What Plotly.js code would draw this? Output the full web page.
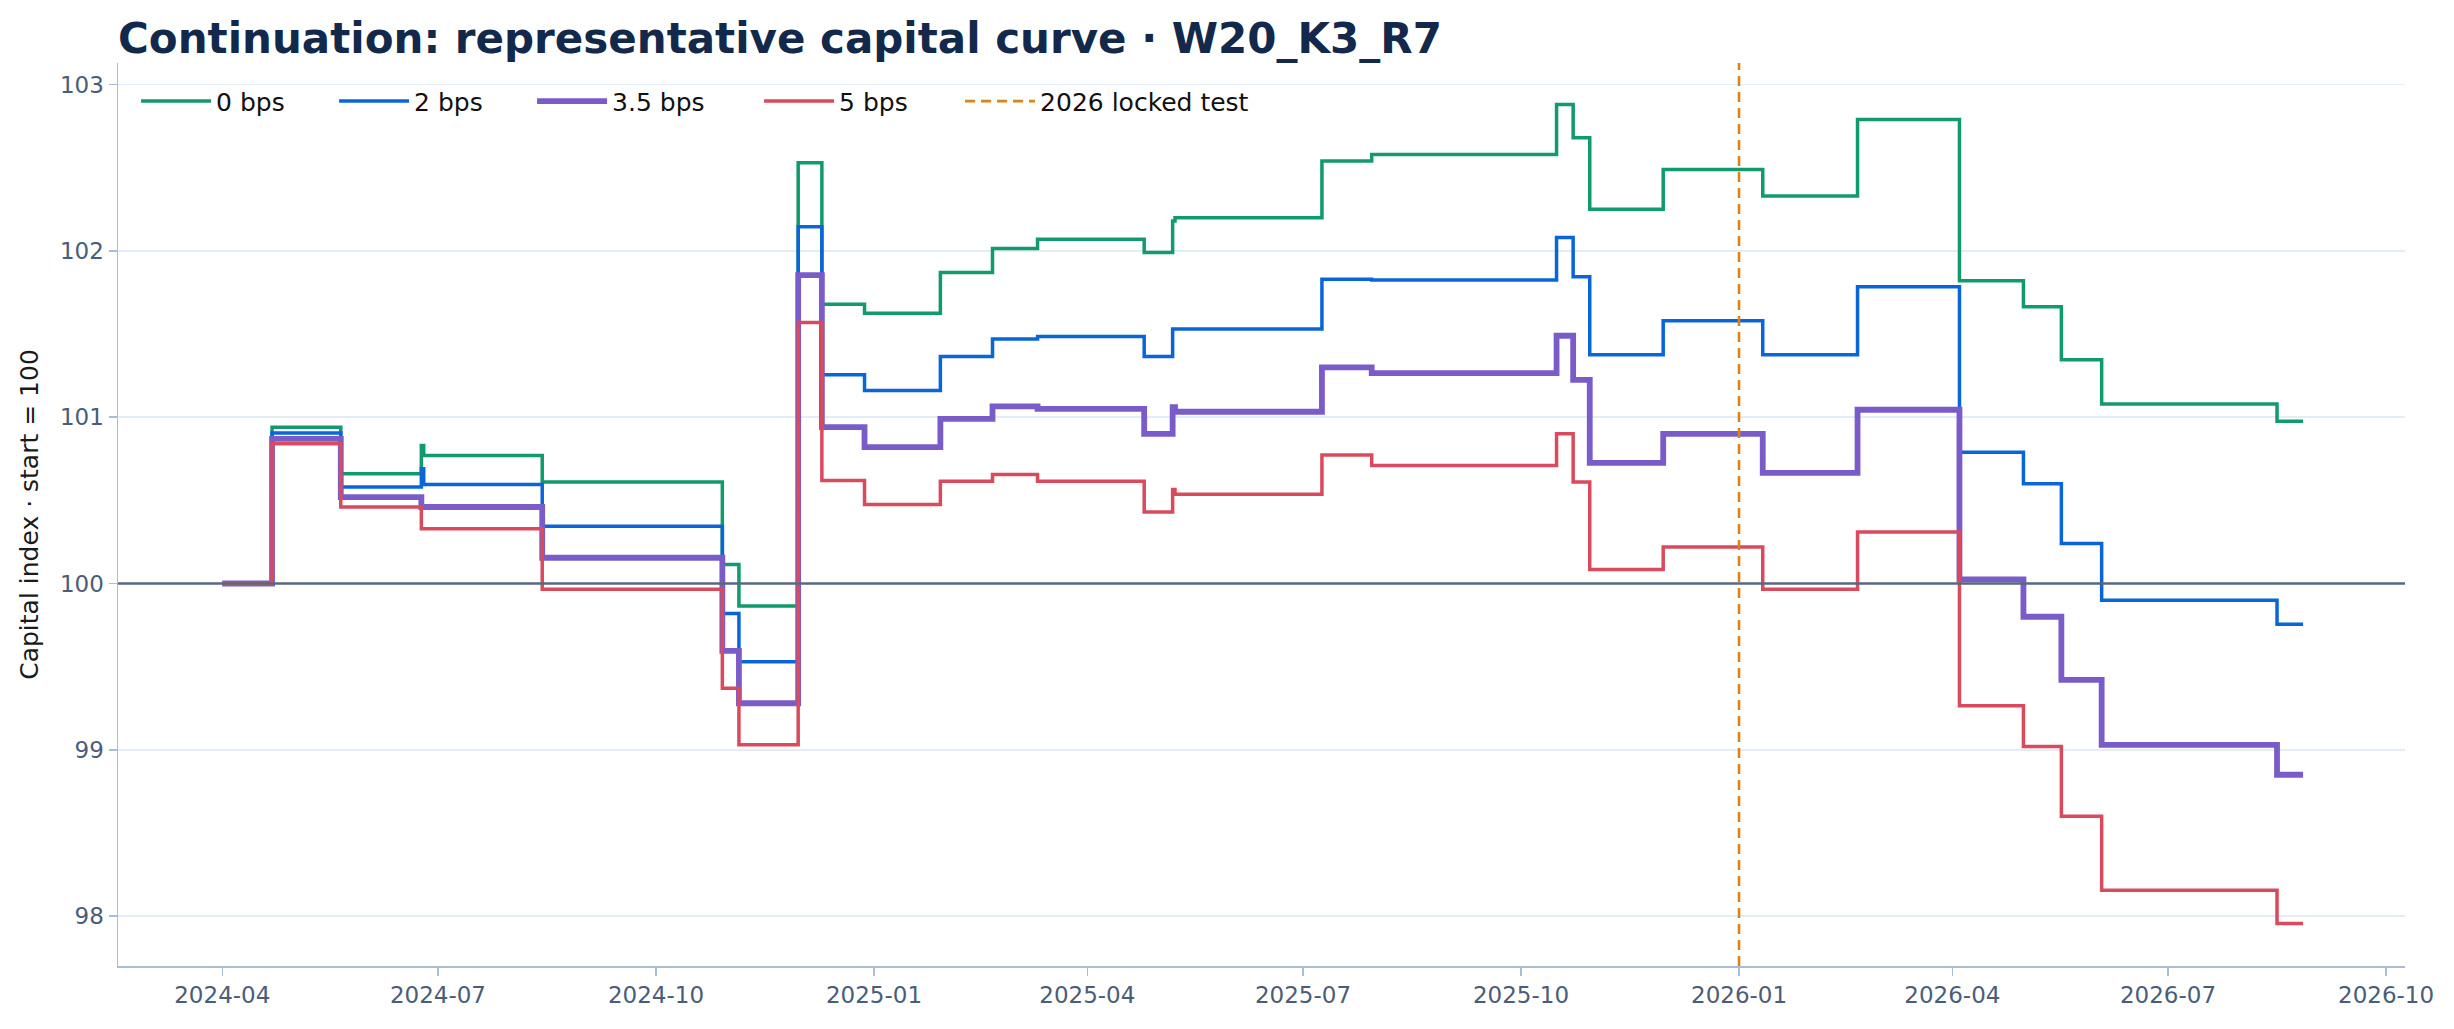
<!DOCTYPE html>
<html>
<head>
<meta charset="utf-8">
<script src="https://cdn.plot.ly/plotly-3.0.1.min.js"></script>
<style>
  html, body { margin: 0; padding: 0; background: #fff; }
  #chart { width: 2454px; height: 1029px; }
</style>
</head>
<body>
<div id="chart"></div>
<script>
// change dates of the daily capital index (value holds until next date)
var dates = [
    '2024-04-01', '2024-04-22', '2024-05-21', '2024-06-24', '2024-06-25',
    '2024-08-14', '2024-10-29', '2024-11-05', '2024-11-30', '2024-12-10',
    '2024-12-28', '2025-01-29', '2025-02-20', '2025-03-11', '2025-04-25',
    '2025-05-07', '2025-05-08', '2025-07-09', '2025-07-30', '2025-10-16',
    '2025-10-23', '2025-10-30', '2025-11-30', '2026-01-11', '2026-02-20',
    '2026-04-04', '2026-05-01', '2026-05-17', '2026-06-03', '2026-08-16',
    '2026-08-27'
];

var bps0 = [100, 100.94, 100.66, 100.83, 100.77, 100.61, 100.115, 99.865, 102.53, 101.68,
    101.625, 101.87, 102.015, 102.07, 101.99, 102.18, 102.20, 102.54, 102.58, 102.88,
    102.68, 102.25, 102.49, 102.33, 102.79, 101.82, 101.665, 101.345, 101.08, 100.975,
    100.975];

var bps2 = [100, 100.905, 100.58, 100.69, 100.595, 100.345, 99.82, 99.53, 102.145, 101.255,
    101.16, 101.365, 101.47, 101.485, 101.365, 101.53, 101.53, 101.83, 101.825, 102.08,
    101.845, 101.375, 101.58, 101.375, 101.785, 100.79, 100.60, 100.24, 99.90, 99.755,
    99.755];

var bps35 = [100, 100.87, 100.52, 100.46, 100.46, 100.155, 99.595, 99.28, 101.855, 100.94,
    100.82, 100.99, 101.065, 101.05, 100.90, 101.06, 101.033, 101.30, 101.265, 101.49,
    101.225, 100.725, 100.90, 100.665, 101.045, 100.025, 99.80, 99.42, 99.03, 98.85,
    98.85];

var bps5 = [100, 100.84, 100.46, 100.33, 100.33, 99.965, 99.37, 99.03, 101.57, 100.62,
    100.475, 100.615, 100.655, 100.615, 100.43, 100.565, 100.537, 100.773, 100.71, 100.90,
    100.61, 100.085, 100.22, 99.965, 100.31, 99.265, 99.02, 98.60, 98.155, 97.955,
    97.955];

var lockDates = ['2026-01-01'];
var baseline = 100;

var font = 'DejaVu Sans, Liberation Sans, sans-serif';
var axisColor = '#a9bdd4';
var tickColor = '#4a5d78';

function curve(name, y, color, width, legend) {
    return {
        x: dates, y: y, name: name, legend: legend,
        type: 'scatter', mode: 'lines',
        line: { color: color, width: width, shape: 'hv' }
    };
}

var data = [
    curve('0 bps', bps0, '#109a6e', 3.5, 'legend'),
    curve('2 bps', bps2, '#0a66d8', 3.5, 'legend'),
    curve('3.5 bps', bps35, '#7a5cc8', 5.8, 'legend'),
    curve('5 bps', bps5, '#d94b5c', 3.5, 'legend2')
];

var legendFont = { family: font, size: 25, color: '#111' };
function legendAt(x, entry) {
    var l = {
        orientation: 'h',
        x: x, xanchor: 'left', y: 0.983, yanchor: 'top',
        bgcolor: 'rgba(255,255,255,0)',
        font: legendFont,
        itemwidth: 70
    };
    if (entry) l.entrywidth = entry;
    return l;
}

var layout = {
    width: 2454, height: 1029,
    margin: { l: 118, r: 49, t: 63, b: 63 },
    paper_bgcolor: '#fff', plot_bgcolor: '#fff',
    font: { family: font, color: '#1a1a1a' },
    title: {
        text: 'Continuation: representative capital curve · W20_K3_R7',
        font: { family: font, size: 42, weight: 'bold', color: '#13294b' },
        xref: 'paper', x: 0, xanchor: 'left',
        yref: 'container', y: 0.963, yanchor: 'middle'
    },
    xaxis: {
        type: 'date',
        range: ['2024-02-17', '2026-10-09'],
        tick0: '2024-01-01', dtick: 'M3', tickformat: '%Y-%m',
        showgrid: false, zeroline: false,
        showline: true, linecolor: axisColor, linewidth: 1.5,
        ticks: 'outside', ticklen: 8, tickwidth: 1.5, tickcolor: axisColor,
        tickfont: { family: font, size: 23, color: tickColor }
    },
    yaxis: {
        range: [97.70, 103.13],
        dtick: 1,
        showgrid: true, gridcolor: '#e6ecf3', gridwidth: 1.5,
        zeroline: false,
        showline: true, linecolor: axisColor, linewidth: 1.5,
        ticks: 'outside', ticklen: 8, tickwidth: 1.5, tickcolor: axisColor,
        tickfont: { family: font, size: 23, color: tickColor },
        title: { text: 'Capital index · start = 100', standoff: 14,
                 font: { family: font, size: 25, color: '#1a1a1a' } }
    },
    legend: legendAt(0.0079, 113),
    legend2: legendAt(0.2803, 115),
    legend3: legendAt(0.3682, 0),
    shapes: [
        {
            type: 'line', xref: 'x domain', yref: 'y',
            x0: 0, x1: 1, y0: baseline, y1: baseline,
            line: { color: '#56697f', width: 2.4 }
        },
        {
            type: 'line', xref: 'x', yref: 'paper',
            x0: lockDates[0], x1: lockDates[0], y0: 0, y1: 1,
            line: { color: '#d98416', width: 2.6, dash: '10px,6px' },
            showlegend: true, name: '2026 locked test', legend: 'legend3'
        }
    ]
};

Plotly.newPlot('chart', data, layout, { displayModeBar: false, staticPlot: true });
</script>
</body>
</html>
